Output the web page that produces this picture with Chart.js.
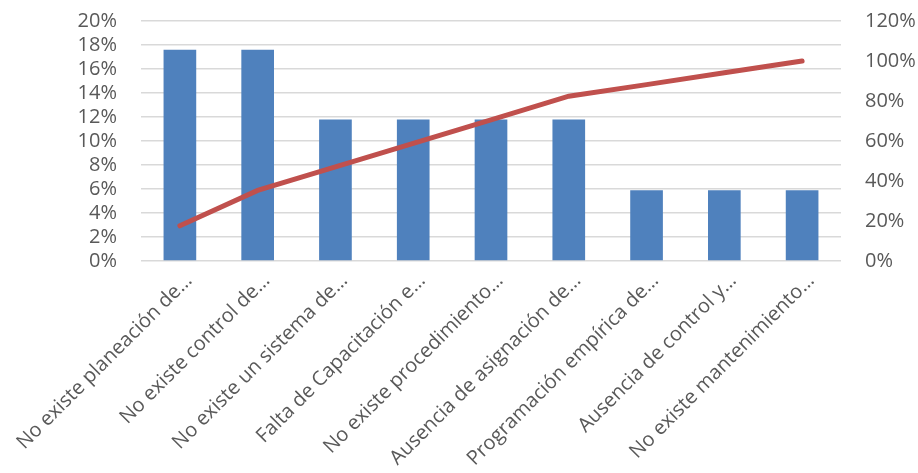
<!DOCTYPE html>
<html>
<head>
<meta charset="utf-8">
<script src="https://cdn.jsdelivr.net/npm/chart.js@4"></script>
<style>
  body { margin: 0; background: #fff; }
</style>
</head>
<body>
<canvas id="pareto" width="918" height="473"></canvas>
<script>
var causas = [
  "No existe planeación de…",
  "No existe control de…",
  "No existe un sistema de…",
  "Falta de Capacitación e…",
  "No existe procedimiento…",
  "Ausencia de asignación de…",
  "Programación empírica de…",
  "Ausencia de control y…",
  "No existe mantenimiento…",
];
var porcentaje = [0.176, 0.176, 0.118, 0.118, 0.118, 0.118, 0.059, 0.059, 0.059];
var acumulado = [0.176, 0.353, 0.471, 0.588, 0.706, 0.824, 0.882, 0.941, 1.0];

var fuente = { family: "'Open Sans', sans-serif", size: 20 };
var gris = "#595959";

function pct(v) {
  return Math.round(v * 100) + "%";
}

var ctx = document.getElementById("pareto").getContext("2d");
new Chart(ctx, {
  data: {
    labels: causas,
    datasets: [
      {
        type: "line",
        data: acumulado,
        yAxisID: "y2",
        borderColor: "#C0504D",
        borderWidth: 5,
        borderCapStyle: "round",
        pointRadius: 0,
        tension: 0,
        order: 0,
      },
      {
        type: "bar",
        data: porcentaje,
        yAxisID: "y",
        backgroundColor: "#4F81BD",
        categoryPercentage: 1,
        barPercentage: 0.42,
        order: 1,
      },
    ],
  },
  options: {
    responsive: false,
    animation: false,
    layout: { padding: { top: 21, right: 0, left: 0, bottom: 0 } },
    plugins: {
      legend: { display: false },
      tooltip: { enabled: false },
    },
    scales: {
      x: {
        grid: { display: false },
        border: { display: false },
        ticks: {
          color: gris,
          font: fuente,
          autoSkip: false,
          minRotation: 45,
          maxRotation: 45,
          padding: 0,
          labelOffset: 9,
        },
        afterFit: function (scale) {
          scale.height = 212;
        },
      },
      y: {
        position: "left",
        min: 0,
        max: 0.2,
        grid: { color: "#D9D9D9", lineWidth: 1.5, tickLength: 22, tickColor: "transparent" },
        border: { display: false },
        ticks: {
          stepSize: 0.02,
          autoSkip: false,
          color: gris,
          font: fuente,
          padding: 2,
          callback: pct,
        },
        afterFit: function (scale) {
          scale.width = 141;
        },
      },
      y2: {
        position: "right",
        min: 0,
        max: 1.2,
        grid: { display: false, drawTicks: true, tickLength: 22, tickColor: "transparent" },
        border: { display: false },
        ticks: {
          stepSize: 0.2,
          autoSkip: false,
          color: gris,
          font: fuente,
          padding: 2,
          callback: pct,
        },
        afterFit: function (scale) {
          scale.width = 77;
        },
      },
    },
  },
});
</script>
</body>
</html>
